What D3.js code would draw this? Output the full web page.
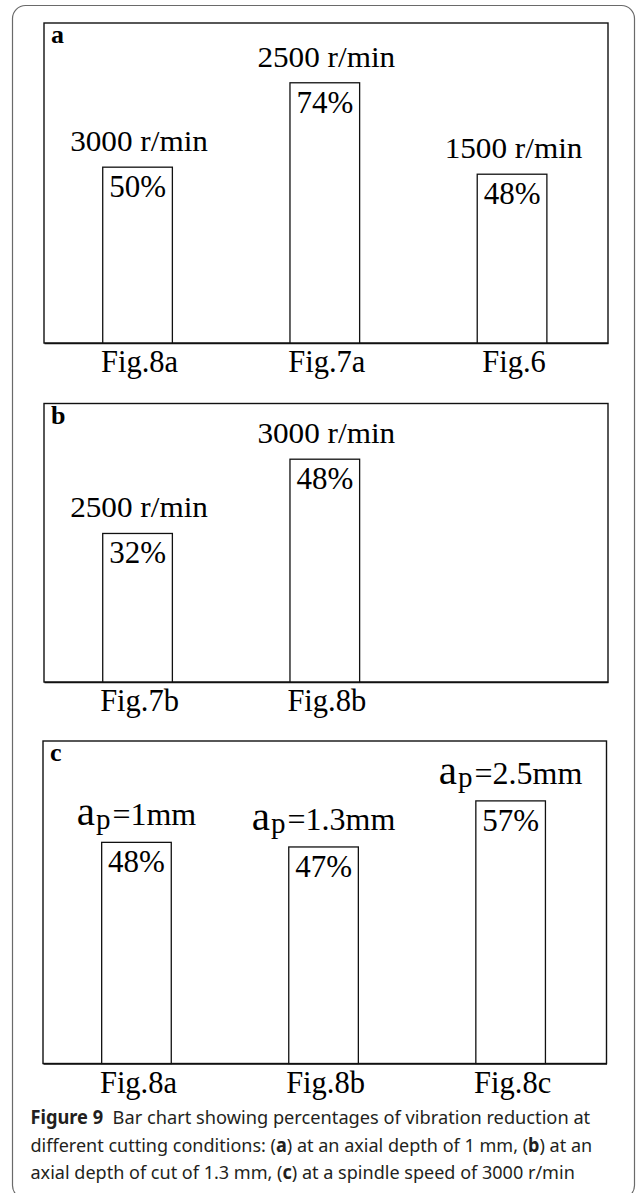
<!DOCTYPE html>
<html>
<head>
<meta charset="utf-8">
<script src="https://cdn.jsdelivr.net/npm/d3@7"></script>
<style>
  body { margin: 0; background: #fff; }
  svg { display: block; }
  .serif { font-family: "Liberation Serif", "Times New Roman", Tinos, serif; }
</style>
</head>
<body>
<svg id="chart" width="637" height="1193"></svg>
<script>
// Panel (a): axial depth of cut 1 mm, different spindle speeds
const catsA = ["Fig.8a", "Fig.7a", "Fig.6"];
const valsA = [50, 74, 48];
const condA = ["3000 r/min", "2500 r/min", "1500 r/min"];

// Panel (b): axial depth of cut 1.3 mm
const catsB = ["Fig.7b", "Fig.8b"];
const valsB = [32, 48];
const condB = ["2500 r/min", "3000 r/min"];

// Panel (c): spindle speed 3000 r/min, different axial depths
const catsC = ["Fig.8a", "Fig.8b", "Fig.8c"];
const valsC = [48, 47, 57];
const depthC = ["=1mm", "=1.3mm", "=2.5mm"];

const svg = d3.select("#chart");

// rounded frame around the whole figure
svg.append("rect")
  .attr("x", 12.5).attr("y", 5.5)
  .attr("width", 622).attr("height", 1193)
  .attr("rx", 13)
  .attr("fill", "none")
  .attr("stroke", "#6a6a6a")
  .attr("stroke-width", 1.2);

const panels = [
  { letter: "a", cats: catsA, vals: valsA, labels: condA, kind: "speed",
    x0: 44, x1: 608, y0: 23, y1: 343, yMax: 91 },
  { letter: "b", cats: catsB, vals: valsB, labels: condB, kind: "speed",
    x0: 44, x1: 608, y0: 403.5, y1: 682, yMax: 60 },
  { letter: "c", cats: catsC, vals: valsC, labels: depthC, kind: "depth",
    x0: 43, x1: 606.5, y0: 741, y1: 1063.5, yMax: 70 }
];

panels.forEach(p => {
  const g = svg.append("g").attr("class", "serif");

  const x = d3.scaleBand()
    .domain(d3.range(3))
    .range([p.x0, p.x1])
    .paddingInner(0.628)
    .paddingOuter(0.32)
    .align(0.49);

  const y = d3.scaleLinear()
    .domain([0, p.yMax])
    .range([p.y1, p.y0]);

  // panel frame
  g.append("rect")
    .attr("x", p.x0).attr("y", p.y0)
    .attr("width", p.x1 - p.x0).attr("height", p.y1 - p.y0)
    .attr("fill", "none")
    .attr("stroke", "#111")
    .attr("stroke-width", 1.4);

  // panel letter
  g.append("text")
    .attr("x", p.x0 + 7).attr("y", p.y0 + 20)
    .attr("font-weight", "bold")
    .attr("font-size", 26)
    .attr("fill", "#000")
    .text(p.letter);

  const idx = d3.range(p.cats.length);

  // bars
  g.selectAll("rect.bar")
    .data(idx)
    .join("rect")
    .attr("class", "bar")
    .attr("x", i => x(i))
    .attr("y", i => y(p.vals[i]))
    .attr("width", x.bandwidth())
    .attr("height", i => y(0) - y(p.vals[i]))
    .attr("fill", "#fff")
    .attr("stroke", "#111")
    .attr("stroke-width", 1.3);

  // percentage inside each bar
  g.selectAll("text.pct")
    .data(idx)
    .join("text")
    .attr("class", "pct")
    .attr("x", i => x(i) + x.bandwidth() / 2)
    .attr("y", i => y(p.vals[i]) + 30)
    .attr("text-anchor", "middle")
    .attr("font-size", 31)
    .attr("fill", "#000")
    .text(i => p.vals[i] + "%");

  // cutting condition above each bar
  if (p.kind === "speed") {
    g.selectAll("g.cond")
      .data(idx)
      .join("g")
      .attr("class", "cond")
      .attr("transform", i => `translate(${x(i) + x.bandwidth() / 2 + 1.5},${y(p.vals[i]) - 16}) scale(1.04,1)`)
      .append("text")
      .attr("text-anchor", "middle")
      .attr("font-size", 30)
      .attr("fill", "#000")
      .text(i => p.labels[i]);
  } else {
    const t = g.selectAll("text.cond")
      .data(idx)
      .join("text")
      .attr("class", "cond")
      .attr("x", i => x(i) + x.bandwidth() / 2)
      .attr("y", i => y(p.vals[i]) - 17)
      .attr("text-anchor", "middle")
      .attr("fill", "#000");
    t.append("tspan").attr("font-size", 41).text("a");
    t.append("tspan").attr("font-size", 29).attr("dy", 3.5).attr("dx", 1).text("p");
    t.append("tspan").attr("font-size", 32).attr("dy", -3.5).attr("dx", 2).text(i => p.labels[i]);
  }

  // category axis along the bottom edge
  const axis = d3.axisBottom(x)
    .tickValues(idx)
    .tickSize(0)
    .tickPadding(0)
    .tickFormat(i => p.cats[i]);

  const ax = g.append("g")
    .attr("transform", `translate(0,${p.y1})`)
    .call(axis);
  ax.attr("font-family", null);
  ax.select(".domain").attr("stroke", "#111").attr("stroke-width", 1.6);
  ax.selectAll(".tick text")
    .attr("y", 29)
    .attr("dy", 0)
    .attr("x", 2)
    .attr("font-size", 30.5)
    .attr("fill", "#000");
});

// caption: each line is a single text, narrowed to the column width
const cap = svg.append("g")
  .attr("font-family", "'Noto Sans', 'Open Sans', sans-serif")
  .attr("font-size", 19)
  .attr("fill", "#231f20");

const captionLines = [
  { y: 1124, width: 560, parts: [["Figure 9", true], ["\u00a0\u00a0Bar chart showing percentages of vibration reduction at", false]] },
  { y: 1151.5, width: 562, parts: [["different cutting conditions: (", false], ["a", true], [") at an axial depth of 1 mm, (", false], ["b", true], [") at an", false]] },
  { y: 1179, width: 545, parts: [["axial depth of cut of 1.3 mm, (", false], ["c", true], [") at a spindle speed of 3000 r/min", false]] }
];

captionLines.forEach(line => {
  const lg = cap.append("g").attr("transform", `translate(30.5,${line.y})`);
  const t = lg.append("text");
  line.parts.forEach(([s, bold]) => {
    const ts = t.append("tspan").text(s);
    if (bold) ts.attr("font-weight", "bold");
  });
  const natural = t.node().getComputedTextLength();
  t.attr("transform", `scale(${line.width / natural},1)`);
});
</script>
</body>
</html>
